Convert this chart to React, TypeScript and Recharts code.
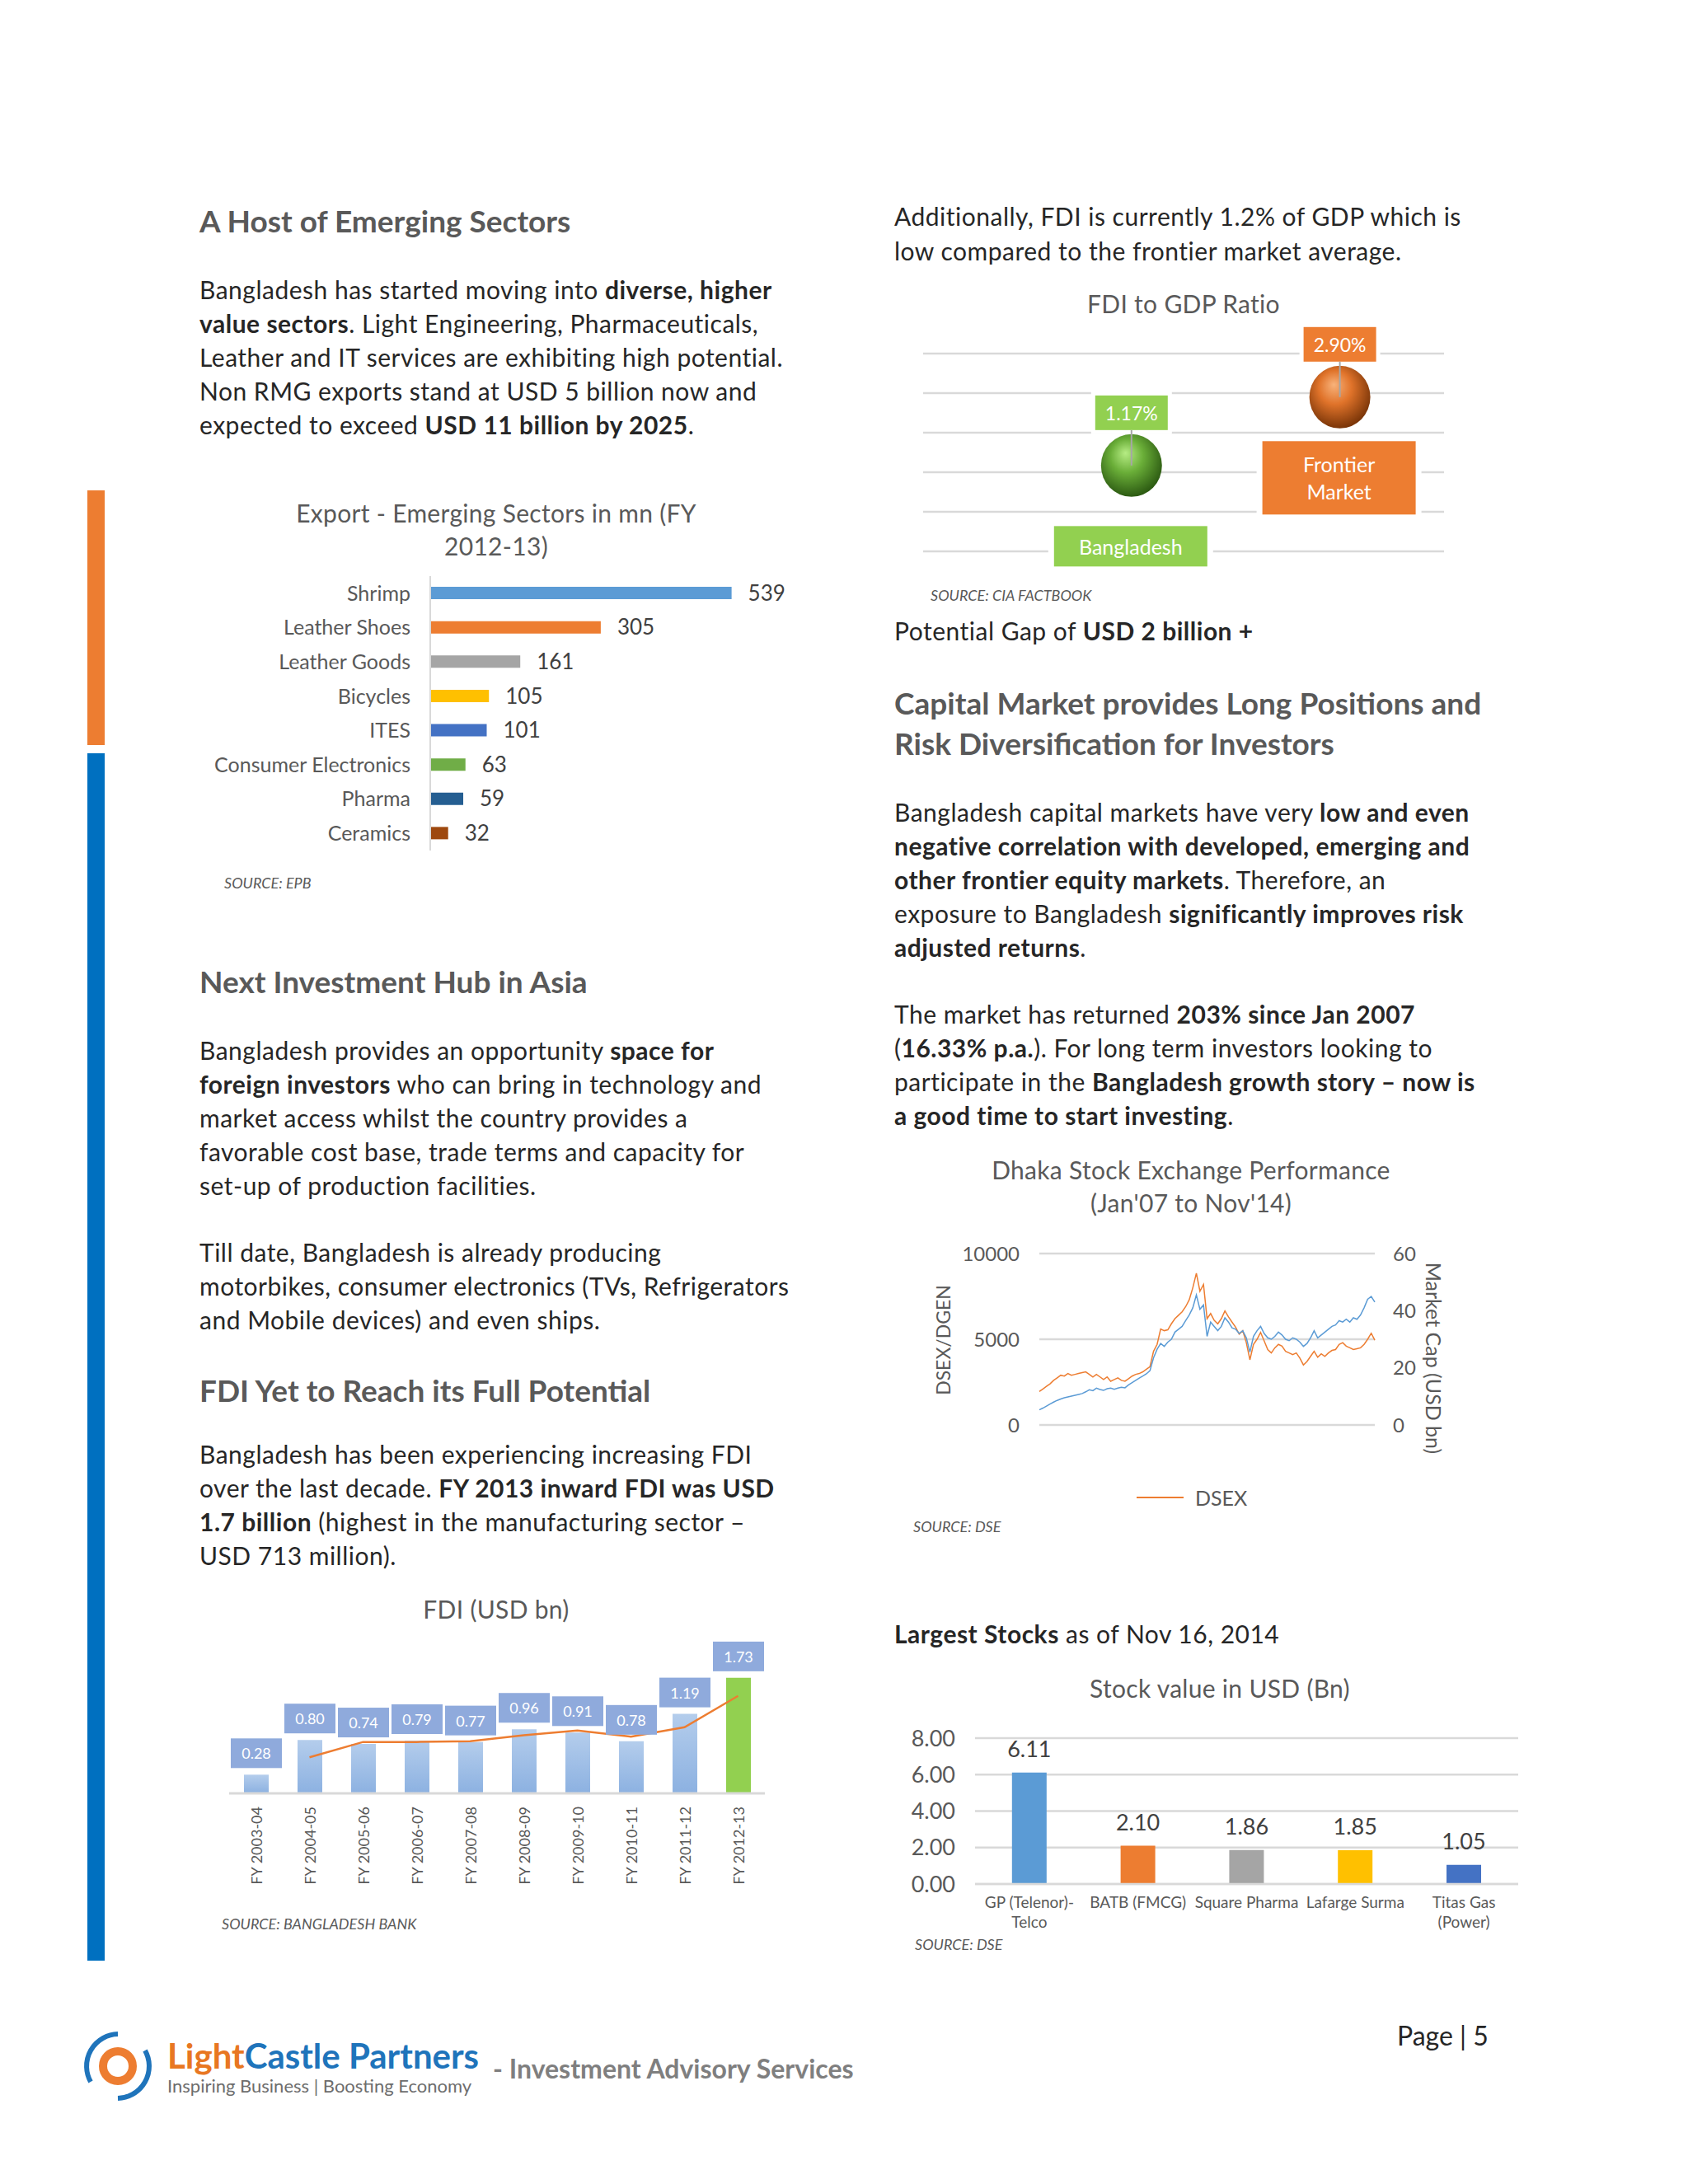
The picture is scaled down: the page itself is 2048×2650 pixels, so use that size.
import React from "react";
import {
  Bar,
  BarChart,
  CartesianGrid,
  Cell,
  ComposedChart,
  LabelList,
  Line,
  LineChart,
  Scatter,
  ScatterChart,
  XAxis,
  YAxis
} from "recharts";

const FONT = "Lato, 'Open Sans', sans-serif";
const GRAY = "#595959";
const GRID = "#d9d9d9";

// Export - emerging sectors
const exportSectors = ["Shrimp", "Leather Shoes", "Leather Goods", "Bicycles", "ITES", "Consumer Electronics", "Pharma", "Ceramics"];
const exportValues = [539, 305, 161, 105, 101, 63, 59, 32];
const exportColors = ["#5b9bd5", "#ed7d31", "#a5a5a5", "#ffc000", "#4472c4", "#70ad47", "#255e91", "#9e480e"];

// FDI (USD bn)
const fdiYears = ["FY 2003-04", "FY 2004-05", "FY 2005-06", "FY 2006-07", "FY 2007-08", "FY 2008-09", "FY 2009-10", "FY 2010-11", "FY 2011-12", "FY 2012-13"];
const fdiValues = [0.28, 0.8, 0.74, 0.79, 0.77, 0.96, 0.91, 0.78, 1.19, 1.73];
const fdiTrend = [null, 0.54, 0.77, 0.77, 0.78, 0.87, 0.94, 0.85, 0.99, 1.46];

// FDI to GDP ratio
const ratioNames = [["Bangladesh"], ["Frontier", "Market"]];
const ratioPositions = [1, 2];
const ratioValues = [1.17, 2.9];
const ratioLabels = ["1.17%", "2.90%"];
const ratioColors = ["#92d050", "#ed7d31"];

// Dhaka stock exchange, monthly Jan'07 - Nov'14
const dsexValues = [
  1950, 2100, 2250, 2400, 2600, 2750, 2900, 2850, 3000, 2900, 2950, 3000, 3050, 3100, 2950, 2800,
  2950, 2800, 2650, 2800, 2550, 2650, 2750, 2600, 2550, 2700, 2850, 2950, 3000, 3100, 3250, 3400,
  4300, 4700, 5600, 5500, 5550, 5900, 6200, 6400, 6600, 6900, 7300, 8000, 8850, 7800, 8200, 6200,
  6500, 6100, 5900, 6200, 6650, 6300, 6000, 5700, 5300, 5500, 4800, 3800, 4700, 5000, 5400, 4900,
  4400, 4200, 4500, 4700, 4600, 4300, 4200, 4100, 4200, 3900, 3500, 3700, 4000, 4300, 3950, 4150,
  4000, 4200, 4350, 4400, 4700, 4800, 4600, 4500, 4400, 4450, 4500, 4700, 5000, 5350, 4950
];
const marketCapValues = [
  5.3, 5.9, 6.6, 7.3, 8.0, 8.6, 9.1, 9.5, 9.8, 10.1, 10.4, 10.7, 11.0, 11.6, 12.3, 12.0,
  12.9, 12.4, 12.1, 12.7, 12.9, 12.5, 12.9, 13.2, 13.0, 14.0, 14.8, 15.6, 16.4, 17.1, 17.9, 19.0,
  23.5, 26.5, 28.5, 27.5, 29.0, 30.0, 32.5, 33.5, 34.5, 36.5, 38.5, 41.0, 45.5, 40.5, 42.0, 31.0,
  36.0, 34.5, 33.0, 34.5, 37.5, 36.0, 34.0, 33.5, 32.0, 33.0, 30.5, 25.5, 31.0, 33.0, 34.5, 32.0,
  30.5, 30.0, 31.0, 32.5, 31.5, 30.0, 29.5, 30.5, 30.0, 29.0, 27.5, 28.5, 30.5, 33.0, 30.5, 31.5,
  32.5, 33.5, 34.5, 35.0, 36.5, 36.0, 37.0, 36.0, 37.5, 37.0, 38.5, 41.0, 44.0, 45.0, 43.0
];

// Largest stocks
const stockNames = ["GP (Telenor)-Telco", "BATB (FMCG)", "Square Pharma", "Lafarge Surma", "Titas Gas (Power)"];
const stockTickLines = [["GP (Telenor)-", "Telco"], ["BATB (FMCG)"], ["Square Pharma"], ["Lafarge Surma"], ["Titas Gas", "(Power)"]];
const stockValues = [6.11, 2.1, 1.86, 1.85, 1.05];
const stockColors = ["#5b9bd5", "#ed7d31", "#a5a5a5", "#ffc000", "#4472c4"];

const exportData = exportSectors.map((name, i) => ({ name, value: exportValues[i] }));
const fdiData = fdiYears.map((year, i) => ({ year, value: fdiValues[i], trend: fdiTrend[i] }));
const ratioData = ratioValues.map((v, i) => ({ x: ratioPositions[i], y: v, idx: i }));
const dseData = dsexValues.map((v, i) => ({ m: i, dsex: v, cap: marketCapValues[i] }));
const stockData = stockNames.map((name, i) => ({ name, value: stockValues[i] }));

function Rich({ text }: { text: string }) {
  const parts = text.split("**");
  return (
    <>
      {parts.map((p, i) => (i % 2 ? <b key={i} style={{ fontWeight: 700 }}>{p}</b> : <span key={i}>{p}</span>))}
    </>
  );
}

function Para(props: {
  x: number;
  y: number;
  lines: string[];
  lh?: number;
  size?: number;
  color?: string;
  bold?: boolean;
  italic?: boolean;
  center?: boolean;
  width?: number;
  ls?: number;
}) {
  const lh = props.lh ?? 41;
  return (
    <div
      style={{
        position: "absolute",
        left: props.center ? props.x - (props.width ?? 700) / 2 : props.x,
        width: props.center ? props.width ?? 700 : undefined,
        textAlign: props.center ? "center" : "left",
        top: props.y - lh / 2,
        lineHeight: `${lh}px`,
        fontSize: props.size ?? 30,
        letterSpacing: props.ls ?? (props.size ? 0 : 0.5),
        color: props.color ?? "#262626",
        fontWeight: props.bold ? 700 : 400,
        fontStyle: props.italic ? "italic" : "normal",
        whiteSpace: "nowrap"
      }}
    >
      {props.lines.map((l, i) => (
        <div key={i}>
          <Rich text={l} />
        </div>
      ))}
    </div>
  );
}

function Source({ x, y, text }: { x: number; y: number; text: string }) {
  return <Para x={x} y={y} lines={[text]} lh={24} size={18} color={GRAY} italic />;
}

function Heading({ x, y, lines }: { x: number; y: number; lines: string[] }) {
  return <Para x={x} y={y} lines={lines} lh={49} size={37} color={GRAY} bold />;
}

function ChartTitle({ x, y, lines }: { x: number; y: number; lines: string[] }) {
  return <Para x={x} y={y} lines={lines} lh={40} size={30} ls={0.3} color={GRAY} center />;
}

function FdiBox(props: any) {
  const { x, y, width, value } = props;
  const cx = x + width / 2;
  const bw = 62;
  const bh = 36;
  const top = y - 8 - bh;
  return (
    <g>
      <rect x={cx - bw / 2} y={top} width={bw} height={bh} fill="#8faadc" />
      <text x={cx} y={top + bh / 2} textAnchor="middle" dominantBaseline="central" fill="#fff" fontSize={18} fontFamily={FONT}>
        {Number(value).toFixed(2)}
      </text>
    </g>
  );
}

function FdiTick(props: any) {
  const { x, y, payload } = props;
  const ty = y + 8;
  return (
    <text x={x} y={ty} transform={`rotate(-90 ${x} ${ty})`} textAnchor="end" dominantBaseline="central" fill={GRAY} fontSize={18} fontFamily={FONT}>
      {payload.value}
    </text>
  );
}

function Bubble(props: any) {
  const { cx, cy, payload } = props;
  const i = payload.idx;
  const color = ratioColors[i];
  const names = ratioNames[i];
  const nameH = names.length > 1 ? 89 : 49;
  const nameCy = cy + 98;
  const valTop = cy - 85;
  return (
    <g>
      <ellipse cx={cx} cy={cy} rx={37} ry={38} fill={`url(#sphere${i})`} />
      <rect x={cx - 44} y={valTop} width={88} height={42} fill={color} stroke="#fff" strokeWidth={10} paintOrder="stroke" />
      <text x={cx} y={valTop + 21} textAnchor="middle" dominantBaseline="central" fill="#fff" fontSize={23} fontFamily={FONT}>
        {ratioLabels[i]}
      </text>
      <line x1={cx} y1={valTop + 42} x2={cx} y2={cy} stroke="#a6a6a6" strokeWidth={2} />
      <rect x={cx - 94} y={nameCy - nameH / 2} width={186} height={nameH} fill={color} stroke="#fff" strokeWidth={14} paintOrder="stroke" />
      <text x={cx - 1} y={nameCy - ((names.length - 1) * 33) / 2} textAnchor="middle" dominantBaseline="central" fill="#fff" fontSize={25} fontFamily={FONT}>
        {names.map((n, k) => (
          <tspan key={k} x={cx - 1} dy={k === 0 ? 0 : 33}>
            {n}
          </tspan>
        ))}
      </text>
    </g>
  );
}

function StockTick(props: any) {
  const { x, y, payload } = props;
  const lines = stockTickLines[stockNames.indexOf(payload.value)] || [payload.value];
  return (
    <text x={x} y={y} textAnchor="middle" fill={GRAY} fontSize={19} fontFamily={FONT}>
      {lines.map((l, k) => (
        <tspan key={k} x={x} dy={k === 0 ? 21 : 24}>
          {l}
        </tspan>
      ))}
    </text>
  );
}

function Logo() {
  return (
    <svg width={90} height={90} style={{ position: "absolute", left: 98, top: 2462 }}>
      <path d="M 45 6 A 39 39 0 0 0 12 64" fill="none" stroke="#1f74bb" strokeWidth={6} />
      <path d="M 45 84 A 39 39 0 0 0 78 26" fill="none" stroke="#1f74bb" strokeWidth={6} />
      <circle cx={45} cy={45} r={18} fill="none" stroke="#ed7d31" strokeWidth={10} />
    </svg>
  );
}

export default function App() {
  return (
    <div style={{ position: "absolute", left: 0, top: 0, width: 2048, height: 2650, background: "#fff", fontFamily: FONT, overflow: "hidden" }}>
      {/* side bars */}
      <div style={{ position: "absolute", left: 106, top: 595, width: 21, height: 309, background: "#ed7d31" }} />
      <div style={{ position: "absolute", left: 106, top: 914, width: 21, height: 1465, background: "#0070c0" }} />

      {/* left column */}
      <Heading x={242} y={267} lines={["A Host of Emerging Sectors"]} />
      <Para
        x={242}
        y={351}
        lines={[
          "Bangladesh has started moving into **diverse, higher**",
          "**value sectors**. Light Engineering, Pharmaceuticals,",
          "Leather and IT services are exhibiting high potential.",
          "Non RMG exports stand at USD 5 billion now and",
          "expected to exceed **USD 11 billion by 2025**."
        ]}
      />
      <ChartTitle x={602} y={622} lines={["Export - Emerging Sectors in mn (FY", "2012-13)"]} />
      <div style={{ position: "absolute", left: 242, top: 690 }}>
        <BarChart width={760} height={350} data={exportData} layout="vertical" margin={{ top: 9, right: 73, bottom: 8, left: 0 }}>
          <XAxis type="number" domain={[0, 600]} hide />
          <YAxis
            type="category"
            dataKey="name"
            width={280}
            tickLine={false}
            tickMargin={18}
            axisLine={{ stroke: GRID, strokeWidth: 2 }}
            tick={{ fill: GRAY, fontSize: 25, fontFamily: FONT }}
            interval={0}
          />
          <Bar dataKey="value" barSize={15} isAnimationActive={false}>
            {exportData.map((_, i) => (
              <Cell key={i} fill={exportColors[i]} />
            ))}
            <LabelList dataKey="value" position="right" offset={20} fill="#404040" fontSize={26} fontFamily={FONT} />
          </Bar>
        </BarChart>
      </div>
      <Source x={272} y={1071} text="SOURCE: EPB" />

      <Heading x={242} y={1190} lines={["Next Investment Hub in Asia"]} />
      <Para
        x={242}
        y={1274}
        lines={[
          "Bangladesh provides an opportunity **space for**",
          "**foreign investors** who can bring in technology and",
          "market access whilst the country provides a",
          "favorable cost base, trade terms and capacity for",
          "set-up of production facilities."
        ]}
      />
      <Para
        x={242}
        y={1519}
        lines={[
          "Till date, Bangladesh is already producing",
          "motorbikes, consumer electronics (TVs, Refrigerators",
          "and Mobile devices) and even ships."
        ]}
      />
      <Heading x={242} y={1686} lines={["FDI Yet to Reach its Full Potential"]} />
      <Para
        x={242}
        y={1764}
        lines={[
          "Bangladesh has been experiencing increasing FDI",
          "over the last decade. **FY 2013 inward FDI was USD**",
          "**1.7 billion** (highest in the manufacturing sector –",
          "USD 713 million)."
        ]}
      />
      <ChartTitle x={602} y={1952} lines={["FDI (USD bn)"]} />
      <div style={{ position: "absolute", left: 240, top: 1975 }}>
        <ComposedChart width={720} height={320} data={fdiData} margin={{ top: 39, right: 32, bottom: 9, left: 38 }}>
          <defs>
            <linearGradient id="fdiBlue" x1="0" y1="0" x2="0" y2="1">
              <stop offset="0%" stopColor="#b4cdec" />
              <stop offset="100%" stopColor="#8cb1e1" />
            </linearGradient>
          </defs>
          <XAxis dataKey="year" height={110} interval={0} tickLine={false} axisLine={{ stroke: GRID, strokeWidth: 3 }} tick={<FdiTick />} />
          <YAxis domain={[0, 2]} hide />
          <Bar dataKey="value" barSize={30} isAnimationActive={false}>
            {fdiData.map((_, i) => (
              <Cell key={i} fill={i === fdiData.length - 1 ? "#92d050" : "url(#fdiBlue)"} />
            ))}
            <LabelList dataKey="value" content={<FdiBox />} />
          </Bar>
          <Line dataKey="trend" stroke="#ed7d31" strokeWidth={2.5} dot={false} isAnimationActive={false} connectNulls />
        </ComposedChart>
      </div>
      <Source x={269} y={2334} text="SOURCE: BANGLADESH BANK" />

      {/* right column */}
      <Para x={1085} y={262} lines={["Additionally, FDI is currently 1.2% of GDP which is", "low compared to the frontier market average."]} lh={42} />
      <ChartTitle x={1436} y={368} lines={["FDI to GDP Ratio"]} />
      <div style={{ position: "absolute", left: 1100, top: 380 }}>
        <ScatterChart width={680} height={330} margin={{ top: 49, right: 28, bottom: 41, left: 20 }}>
          <defs>
            <radialGradient id="sphere0" cx="45%" cy="40%" r="60%" fx="40%" fy="30%">
              <stop offset="0%" stopColor="#b6ec84" />
              <stop offset="45%" stopColor="#6aae38" />
              <stop offset="100%" stopColor="#2c5a12" />
            </radialGradient>
            <radialGradient id="sphere1" cx="45%" cy="40%" r="60%" fx="40%" fy="30%">
              <stop offset="0%" stopColor="#f8b27a" />
              <stop offset="45%" stopColor="#e0732a" />
              <stop offset="100%" stopColor="#7a3508" />
            </radialGradient>
          </defs>
          <CartesianGrid vertical={false} stroke={GRID} strokeWidth={2.5} />
          <XAxis type="number" dataKey="x" domain={[0, 2.5]} hide />
          <YAxis type="number" dataKey="y" domain={[-1, 4]} ticks={[-1, 0, 1, 2, 3, 4]} hide />
          <Scatter data={ratioData} shape={<Bubble />} isAnimationActive={false} />
        </ScatterChart>
      </div>
      <Source x={1129} y={722} text="SOURCE: CIA FACTBOOK" />
      <Para x={1085} y={765} lines={["Potential Gap of **USD 2 billion +**"]} />
      <Heading x={1085} y={852} lines={["Capital Market provides Long Positions and", "Risk Diversification for Investors"]} />
      <Para
        x={1085}
        y={985}
        lines={[
          "Bangladesh capital markets have very **low and even**",
          "**negative correlation with developed, emerging and**",
          "**other frontier equity markets**. Therefore, an",
          "exposure to Bangladesh **significantly improves risk**",
          "**adjusted returns**."
        ]}
      />
      <Para
        x={1085}
        y={1230}
        lines={[
          "The market has returned **203% since Jan 2007**",
          "(**16.33% p.a.**). For long term investors looking to",
          "participate in the **Bangladesh growth story – now is**",
          "**a good time to start investing**."
        ]}
      />
      <ChartTitle x={1445} y={1419} lines={["Dhaka Stock Exchange Performance", "(Jan'07 to Nov'14)"]} />
      <div style={{ position: "absolute", left: 1100, top: 1490 }}>
        <LineChart width={700} height={360} data={dseData} margin={{ top: 31, right: 72, bottom: 121, left: 61 }}>
          <CartesianGrid vertical={false} stroke={GRID} strokeWidth={2.5} yAxisId="left" />
          <XAxis dataKey="m" hide />
          <YAxis
            yAxisId="left"
            domain={[0, 10000]}
            ticks={[0, 5000, 10000]}
            width={100}
            tickLine={false}
            axisLine={false}
            tickMargin={18}
            tick={{ fill: GRAY, fontSize: 24, fontFamily: FONT }}
          />
          <YAxis
            yAxisId="right"
            orientation="right"
            domain={[0, 60]}
            ticks={[0, 20, 40, 60]}
            width={60}
            tickLine={false}
            axisLine={false}
            tickMargin={16}
            tick={{ fill: GRAY, fontSize: 24, fontFamily: FONT }}
          />
          <Line yAxisId="left" dataKey="dsex" stroke="#ed7d31" strokeWidth={1.5} dot={false} isAnimationActive={false} />
          <Line yAxisId="right" dataKey="cap" stroke="#5b9bd5" strokeWidth={1.5} dot={false} isAnimationActive={false} />
        </LineChart>
      </div>
      <div style={{ position: "absolute", left: 1144, top: 1626, transform: "translate(-50%, -50%) rotate(-90deg)", fontSize: 23, color: GRAY, whiteSpace: "nowrap" }}>DSEX/DGEN</div>
      <div style={{ position: "absolute", left: 1740, top: 1648, transform: "translate(-50%, -50%) rotate(90deg)", fontSize: 25, color: GRAY, whiteSpace: "nowrap" }}>Market Cap (USD bn)</div>
      <div style={{ position: "absolute", left: 1379, top: 1816, width: 57, height: 2, background: "#ed7d31" }} />
      <Para x={1450} y={1817} lines={["DSEX"]} size={25} color={GRAY} />
      <Source x={1108} y={1852} text="SOURCE: DSE" />

      <Para x={1085} y={1982} lines={["**Largest Stocks** as of Nov 16, 2014"]} />
      <ChartTitle x={1480} y={2048} lines={["Stock value in USD (Bn)"]} />
      <div style={{ position: "absolute", left: 1090, top: 2080 }}>
        <BarChart width={780} height={290} data={stockData} barCategoryGap="34%" margin={{ top: 29, right: 28, bottom: 14, left: 13 }}>
          <CartesianGrid vertical={false} stroke={GRID} strokeWidth={2.5} />
          <XAxis dataKey="name" height={70} interval={0} tickLine={false} axisLine={{ stroke: GRID, strokeWidth: 2.5 }} tick={<StockTick />} />
          <YAxis
            domain={[0, 8]}
            ticks={[0, 2, 4, 6, 8]}
            width={80}
            tickLine={false}
            axisLine={false}
            tickMargin={18}
            tickFormatter={(v) => Number(v).toFixed(2)}
            tick={{ fill: GRAY, fontSize: 27, fontFamily: FONT }}
          />
          <Bar dataKey="value" isAnimationActive={false}>
            {stockData.map((_, i) => (
              <Cell key={i} fill={stockColors[i]} />
            ))}
            <LabelList dataKey="value" position="top" offset={19} fill="#404040" fontSize={27} fontFamily={FONT} formatter={(v: any) => Number(v).toFixed(2)} />
          </Bar>
        </BarChart>
      </div>
      <Source x={1110} y={2359} text="SOURCE: DSE" />

      {/* footer */}
      <Para x={1695} y={2469} lines={["Page | 5"]} size={32} />
      <Logo />
      <div style={{ position: "absolute", left: 203, top: 2470, fontSize: 42, fontWeight: 700, lineHeight: "48px", whiteSpace: "nowrap" }}>
        <span style={{ color: "#e87722" }}>Light</span>
        <span style={{ color: "#1f74bb" }}>Castle Partners</span>
      </div>
      <Para x={203} y={2531} lines={["Inspiring Business | Boosting Economy"]} lh={26} size={22} color="#6d6d6d" />
      <Para x={598} y={2509} lines={["-  Investment Advisory Services"]} size={32} color="#7f7f7f" bold />
    </div>
  );
}
